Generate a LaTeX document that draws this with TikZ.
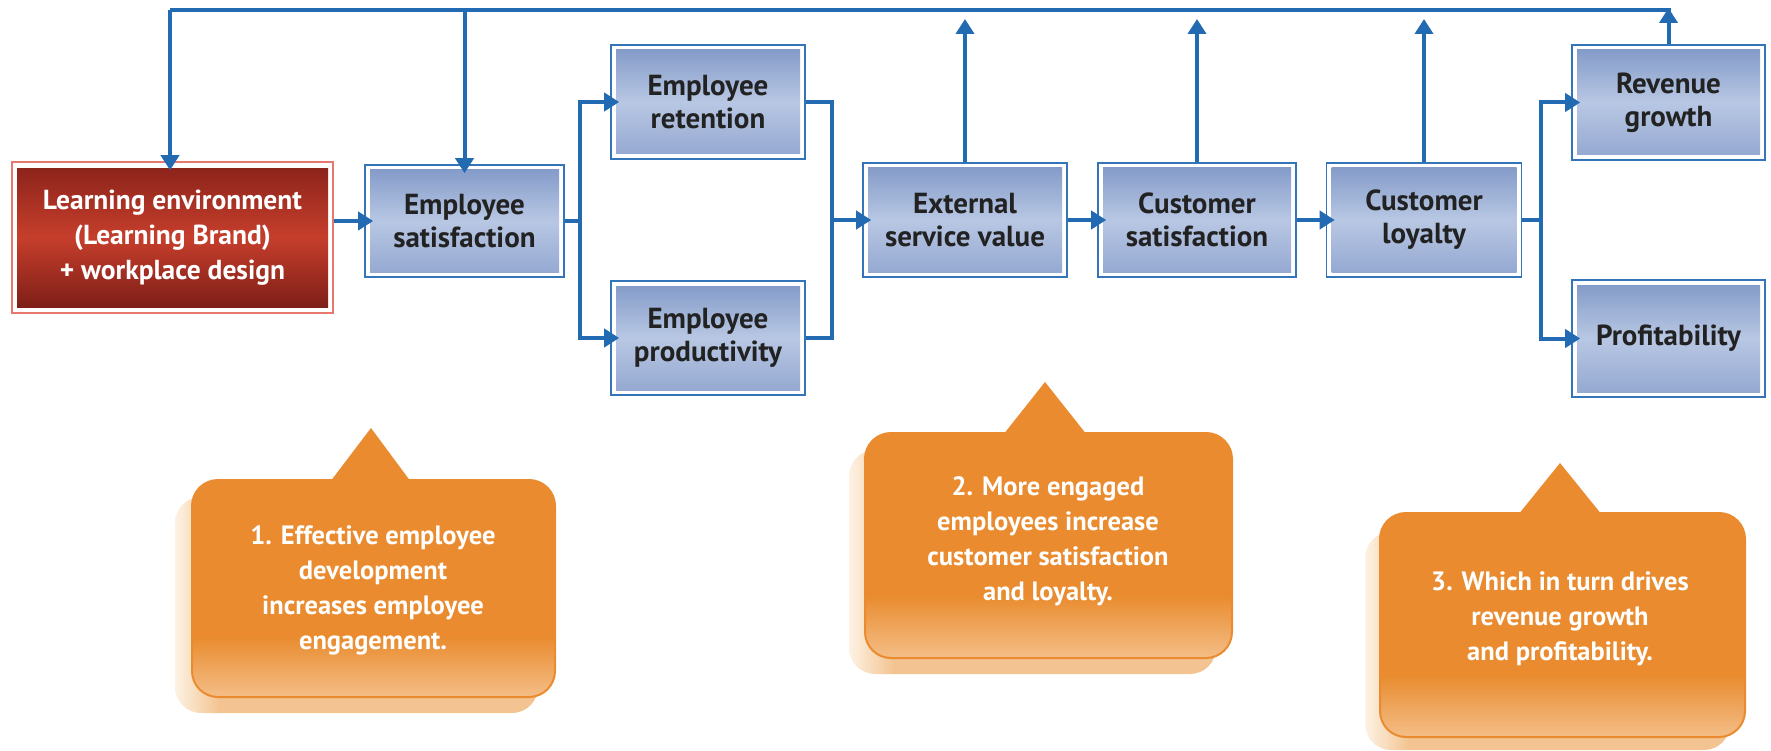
\documentclass[tikz,border=0pt]{standalone}
\usepackage{fontspec}
\setmainfont{PT Sans}
\usetikzlibrary{arrows.meta}
\definecolor{arr}{RGB}{34,106,178}
\definecolor{bborder}{RGB}{52,116,184}
\definecolor{bt}{RGB}{128,152,199}
\definecolor{bm}{RGB}{184,199,227}
\definecolor{bb}{RGB}{146,166,208}
\definecolor{rborder}{RGB}{230,120,112}
\definecolor{rt}{RGB}{136,34,26}
\definecolor{rm}{RGB}{198,62,44}
\definecolor{rb}{RGB}{120,28,22}
\definecolor{txt}{RGB}{34,34,34}
\definecolor{oc}{RGB}{233,139,46}
\definecolor{ol}{RGB}{244,190,135}
\definecolor{sl}{RGB}{253,242,228}
\definecolor{sm}{RGB}{243,196,145}
\pgfdeclareverticalshading{calshade}{100bp}{color(0bp)=(ol); color(25bp)=(ol); color(39bp)=(oc); color(100bp)=(oc)}
\pgfdeclarehorizontalshading{shshade}{100bp}{color(0bp)=(sl); color(25bp)=(sl); color(31bp)=(sm); color(100bp)=(sm)}
\tikzset{
  bbox/.style={draw=bborder, line width=1.6pt, fill=white, minimum height=114pt,
    align=center, text=txt, font=\fontsize{29}{33}\selectfont\bfseries, inner sep=0pt,
    path picture={\shade[top color=bt, bottom color=bb, middle color=bm]
      ([shift={(5pt,5pt)}]path picture bounding box.south west) rectangle
      ([shift={(-5pt,-5pt)}]path picture bounding box.north east);}},
  rbox/.style={draw=rborder, line width=1.6pt, fill=white,
    align=center, text=white, font=\fontsize{27.5}{35}\selectfont\bfseries, inner sep=0pt,
    path picture={\shade[top color=rt, bottom color=rb, middle color=rm]
      ([shift={(5pt,6pt)}]path picture bounding box.south west) rectangle
      ([shift={(-5pt,-7pt)}]path picture bounding box.north east);}},
  link/.style={draw=arr, line width=4pt, line join=miter},
  flow/.style={link, -{Triangle[length=15pt,width=18pt]}, shorten >=-9pt},
  calltext/.style={align=center, text=white, font=\fontsize{26.5}{35}\selectfont\bfseries},
  callbody/.style={shading=calshade, rounded corners=26pt},
  callrim/.style={draw=oc, line width=2pt, rounded corners=26pt},
  callshadow/.style={shading=shshade, rounded corners=26pt}
}
\begin{document}
\begin{tikzpicture}[x=1pt,y=-1pt]
\useasboundingbox (0,0) rectangle (1771,751);

% boxes
\node[rbox, minimum width=321pt, minimum height=151pt] (learn) at (172.5,237.5)
  {Learning environment\\(Learning Brand)\\+ workplace design};
\node[bbox, minimum width=199pt, minimum height=112pt] (esat) at (464.5,221) {Employee\\satisfaction};
\node[bbox, minimum width=194pt] (eret) at (708,102) {Employee\\retention};
\node[bbox, minimum width=194pt] (eprod) at (708,338) {Employee\\productivity};
\node[bbox, minimum width=204pt] (ext) at (965,220) {External\\service value};
\node[bbox, minimum width=198pt] (csat) at (1197,220) {Customer\\satisfaction};
\node[bbox, minimum width=195pt] (cloy) at (1424,220) {Customer\\loyalty};
\node[bbox, minimum width=193pt, minimum height=115pt] (rev) at (1668.5,102.5) {Revenue\\growth};
\node[bbox, minimum width=193pt, minimum height=117pt] (prof) at (1668.5,338.5) {Profitability};

% helper coordinates
\coordinate (b1) at (580,221);
\coordinate (m1) at (832,220);
\coordinate (b2) at (1541,220);
\coordinate (tl) at (170,10);
\coordinate (ty) at (0,19);

% flow connectors
\draw[flow] (esat.west -| learn.east) -- (esat.west);
\draw[link] (esat.east) -- (b1);
\draw[flow] (b1) |- (eret.west);
\draw[flow] (b1) |- (eprod.west);
\draw[link] (eret.east) -| (m1);
\draw[link] (eprod.east) -| (m1);
\draw[flow] (m1) -- (ext.west);
\draw[flow] (ext.east) -- (csat.west);
\draw[flow] (csat.east) -- (cloy.west);
\draw[link] (cloy.east) -- (b2);
\draw[flow] (b2) |- (rev.west);
\draw[flow] (b2) |- (prof.west);

% feedback loop
\draw[link] (tl) -- ([xshift=2pt]rev.north |- tl);
\draw[flow] (tl) -- (tl |- learn.north);
\draw[flow] (esat.north |- tl) -- (esat.north);
\draw[link, -{Triangle[length=15pt,width=18pt]}] (ext.north) -- (ext.north |- ty);
\draw[link, -{Triangle[length=15pt,width=18pt]}] (csat.north) -- (csat.north |- ty);
\draw[link, -{Triangle[length=15pt,width=18pt]}] (cloy.north) -- (cloy.north |- ty);
\draw[link, -{Triangle[length=15pt,width=18pt]}] (rev.north) -- ([yshift=2pt]rev.north |- tl);

% callout 1
\shade[callshadow] (175,497) rectangle (538,713);
\shade[callbody] (192,480) rectangle (555,697);
\draw[callrim] (192,480) rectangle (555,697);
\fill[oc] (330,482) -- (371,428) -- (411,482) -- cycle;
\node[calltext] (c1) at (373,590) {1. Effective employee\\development\\increases employee\\engagement.};

% callout 2
\shade[callshadow] (849,450) rectangle (1216,674);
\shade[callbody] (865,433) rectangle (1232,658);
\draw[callrim] (865,433) rectangle (1232,658);
\fill[oc] (1003,435) -- (1045,382) -- (1087,435) -- cycle;
\node[calltext] (c2) at (1048,541) {2. More engaged\\employees increase\\customer satisfaction\\and loyalty.};

% callout 3
\shade[callshadow] (1365,532) rectangle (1730,750);
\shade[callbody] (1380,513) rectangle (1745,737);
\draw[callrim] (1380,513) rectangle (1745,737);
\fill[oc] (1518,515) -- (1560,463) -- (1602,515) -- cycle;
\node[calltext] (c3) at (1560,619) {3. Which in turn drives\\revenue growth\\and profitability.};
\end{tikzpicture}
\end{document}
